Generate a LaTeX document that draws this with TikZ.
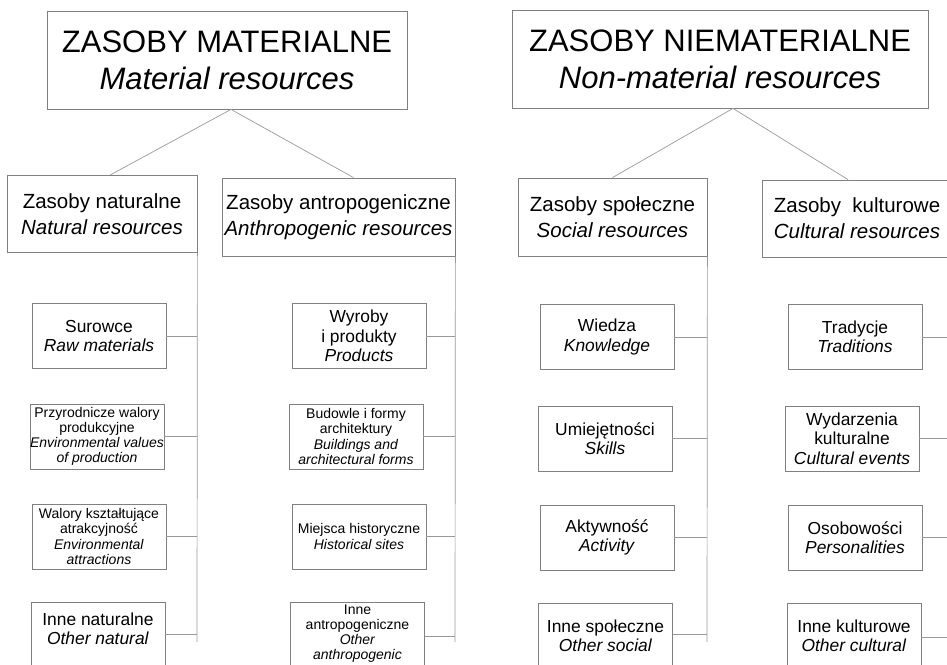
\documentclass[tikz,border=0pt]{standalone}
\usepackage{fontspec}
\setmainfont{Liberation Sans}
\definecolor{boxgray}{gray}{0.5}
\definecolor{linegray}{gray}{0.6}

\begin{document}
\begin{tikzpicture}[x=1pt, y=-1pt,
    box/.style={draw=boxgray, line width=0.8pt, align=center, inner sep=0pt},
    headbox/.style={box, minimum height=98pt, font=\fontsize{31}{37}\selectfont},
    catbox/.style={box, minimum width=190pt, minimum height=77pt, font=\fontsize{20.5}{26}\selectfont},
    leafbox/.style={box, minimum width=134pt, minimum height=65pt, font=\fontsize{17.4}{19.3}\selectfont},
    smallbox/.style={leafbox, font=\fontsize{14}{15.2}\selectfont},
    lastbox/.style={anchor=north, text depth=60pt},
    link/.style={draw=linegray, line width=0.7pt}]
    \useasboundingbox (0,0) rectangle (947,664);
    \clip (0,0) rectangle (947,664);

    \node[headbox, minimum width=360pt] (mat) at (227,60) {ZASOBY MATERIALNE\\\textit{Material resources}};
    \node[headbox, minimum width=416pt] (nmat) at (720,59) {ZASOBY NIEMATERIALNE\\\textit{Non-material resources}};

    \node[catbox] (nat) at (102,214) {Zasoby naturalne\\\textit{Natural resources}};
    \node[catbox, minimum width=233pt, minimum height=78pt] (ant) at (338.5,217) {Zasoby antropogeniczne\\\textit{Anthropogenic resources}};
    \node[catbox, minimum width=189pt, minimum height=78pt] (spo) at (612.5,217) {Zasoby społeczne\\\textit{Social resources}};
    \node[catbox] (kul) at (857,218.5) {Zasoby\ \ kulturowe\\\textit{Cultural resources}};

    \node[leafbox] (sur) at (99,336) {Surowce\\\textit{Raw materials}};
    \node[smallbox] (prz) at (97,436.5) {Przyrodnicze walory\\produkcyjne\\\textit{Environmental values}\\\textit{of production}};
    \node[smallbox] (wal) at (99,536.5) {Walory kształtujące\\atrakcyjność\\\textit{Environmental}\\\textit{attractions}};
    \node[leafbox, lastbox, inner ysep=10pt] (innat) at (98,602) {Inne naturalne\\\textit{Other natural}};

    \node[leafbox] (wyr) at (359,336) {Wyroby\\i produkty\\\textit{Products}};
    \node[smallbox] (bud) at (356,436.5) {Budowle i formy\\architektury\\\textit{Buildings and}\\\textit{architectural forms}};
    \node[smallbox] (mie) at (359,536.5) {Miejsca historyczne\\\textit{Historical sites}};
    \node[smallbox, lastbox, inner ysep=2pt] (inant) at (357.5,602) {Inne\\antropogeniczne\\\textit{Other}\\\textit{anthropogenic}};

    \node[leafbox] (wie) at (607,337) {Wiedza\\\textit{Knowledge}};
    \node[leafbox] (umi) at (605,438.5) {Umiejętności\\\textit{Skills}};
    \node[leafbox] (akt) at (607,537.5) {Aktywność\\\textit{Activity}};
    \node[leafbox, lastbox, inner ysep=16pt] (inspo) at (605.5,603) {Inne społeczne\\\textit{Other social}};

    \node[leafbox] (tra) at (855,337) {Tradycje\\\textit{Traditions}};
    \node[leafbox] (wyd) at (852,438.5) {Wydarzenia\\kulturalne\\\textit{Cultural events}};
    \node[leafbox] (oso) at (855,537.5) {Osobowości\\\textit{Personalities}};
    \node[leafbox, lastbox, inner ysep=16pt] (inkul) at (854,603) {Inne kulturowe\\\textit{Other cultural}};

    \draw[link] ([xshift=4pt]mat.south) -- ([xshift=8pt]nat.north);
    \draw[link] ([xshift=4pt]mat.south) -- ([xshift=15pt]ant.north);
    \draw[link] ([xshift=13pt]nmat.south) -- (spo.north);
    \draw[link] ([xshift=13pt]nmat.south) -- ([xshift=-9pt]kul.north);

    \coordinate (natend) at (197,642);
    \coordinate (antend) at (455,642);
    \coordinate (spoend) at (707,642);
    \coordinate (kulend) at (955,642);
    \draw[link] (nat.south east) -- (natend);
    \draw[link] (ant.south east) -- (antend);
    \draw[link] (spo.south east) -- (spoend);
    \draw[link] (kul.south east) -- (kulend);

    \foreach \n in {sur,prz,wal} \draw[link] (\n.east) -- (\n.east -| natend);
    \foreach \n in {wyr,bud,mie} \draw[link] (\n.east) -- (\n.east -| antend);
    \foreach \n in {wie,umi,akt} \draw[link] (\n.east) -- (\n.east -| spoend);
    \foreach \n in {tra,wyd,oso} \draw[link] (\n.east) -- (\n.east -| kulend);
    \draw[link] ([yshift=-32pt]innat.north east) -- ([yshift=-32pt]innat.north east -| natend);
    \draw[link] ([yshift=-34pt]inant.north east) -- ([yshift=-34pt]inant.north east -| antend);
    \draw[link] ([yshift=-31pt]inspo.north east) -- ([yshift=-31pt]inspo.north east -| spoend);
    \draw[link] ([yshift=-34pt]inkul.north east) -- ([yshift=-34pt]inkul.north east -| kulend);
\end{tikzpicture}
\end{document}
